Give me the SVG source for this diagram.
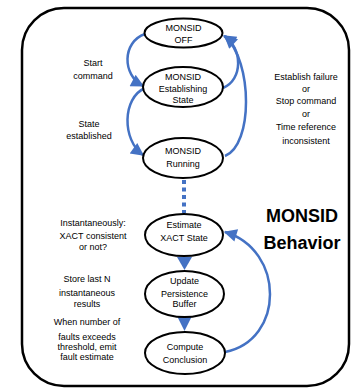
<svg xmlns="http://www.w3.org/2000/svg" width="351" height="388" viewBox="0 0 351 388">
<defs>
<style>
.n{fill:#fff;stroke:#000;stroke-width:2}
.t{font-family:"Liberation Sans",Arial,sans-serif;font-size:9px;fill:#000;text-anchor:middle}
.b{font-family:"Liberation Sans",Arial,sans-serif;font-size:18px;font-weight:bold;fill:#000;text-anchor:middle}
.c{fill:none;stroke:#4472C4;stroke-width:2.5}
</style>
<marker id="ah" viewBox="0 0 10 10" refX="9" refY="5" markerWidth="15" markerHeight="13" markerUnits="userSpaceOnUse" orient="auto">
<path d="M0,0 L10,5 L0,10 z" fill="#4472C4"/>
</marker>
</defs>
<rect x="22" y="8" width="327" height="378" rx="42" ry="42" fill="#fff" stroke="#000" stroke-width="2.5"/>
<g id="connectors">
<path class="c" d="M145,34 C122,42 122,75 143,86" marker-end="url(#ah)"/>
<path class="c" d="M145,88 C122,98 122,140 143,155" marker-end="url(#ah)"/>
<path class="c" d="M223,88 C243,80 243,48 224,36" marker-end="url(#ah)"/>
<path class="c" d="M225,156 C253,145 253,62 225,36" marker-end="url(#ah)"/>
<path d="M184,180 L184,213" fill="none" stroke="#4472C4" stroke-width="4" stroke-dasharray="4 3.5"/>
<path class="c" d="M225,352 C285,340 285,250 225,232" marker-end="url(#ah)"/>
<polygon points="177,257 192,257 184.5,270" fill="#4472C4"/>
<polygon points="177,316 192,316 184.5,331" fill="#4472C4"/>
</g>
<g id="off">
<ellipse class="n" cx="183.5" cy="33" rx="39" ry="14.5"/>
<text class="t" x="183.5" y="31">MONSID</text>
<text class="t" x="183.5" y="43">OFF</text>
</g>
<g id="establishing">
<ellipse class="n" cx="183" cy="87" rx="40" ry="20"/>
<text class="t" x="183" y="80">MONSID</text>
<text class="t" x="183" y="92">Establishing</text>
<text class="t" x="183" y="103">State</text>
</g>
<g id="running">
<ellipse class="n" cx="183" cy="158" rx="40" ry="20"/>
<text class="t" x="183" y="154">MONSID</text>
<text class="t" x="183" y="167">Running</text>
</g>
<g id="estimate">
<ellipse class="n" cx="184" cy="235" rx="39" ry="21"/>
<text class="t" x="184" y="228">Estimate</text>
<text class="t" x="184" y="241">XACT State</text>
</g>
<g id="update">
<ellipse class="n" cx="184.5" cy="294" rx="39.5" ry="23"/>
<text class="t" x="184.5" y="284">Update</text>
<text class="t" x="184.5" y="297">Persistence</text>
<text class="t" x="184.5" y="307">Buffer</text>
</g>
<g id="compute">
<ellipse class="n" cx="185" cy="353" rx="40" ry="21"/>
<text class="t" x="185" y="350">Compute</text>
<text class="t" x="185" y="363">Conclusion</text>
</g>
<g id="labels">
<text class="t" x="93" y="66">Start</text>
<text class="t" x="93" y="79">command</text>
<text class="t" x="89" y="127">State</text>
<text class="t" x="89" y="139">established</text>
<text class="t" x="306" y="80">Establish failure</text>
<text class="t" x="306" y="92">or</text>
<text class="t" x="306" y="104">Stop command</text>
<text class="t" x="306" y="117">or</text>
<text class="t" x="306" y="130">Time reference</text>
<text class="t" x="306" y="144">inconsistent</text>
<text class="t" x="93" y="226">Instantaneously:</text>
<text class="t" x="93" y="239">XACT consistent</text>
<text class="t" x="93" y="250">or not?</text>
<text class="t" x="87" y="282">Store last N</text>
<text class="t" x="87" y="296">instantaneous</text>
<text class="t" x="87" y="307">results</text>
<text class="t" x="87" y="325">When number of</text>
<text class="t" x="87" y="340">faults exceeds</text>
<text class="t" x="87" y="350">threshold, emit</text>
<text class="t" x="87" y="360">fault estimate</text>
<text class="b" x="302" y="222">MONSID</text>
<text class="b" x="302" y="249">Behavior</text>
</g>
</svg>
